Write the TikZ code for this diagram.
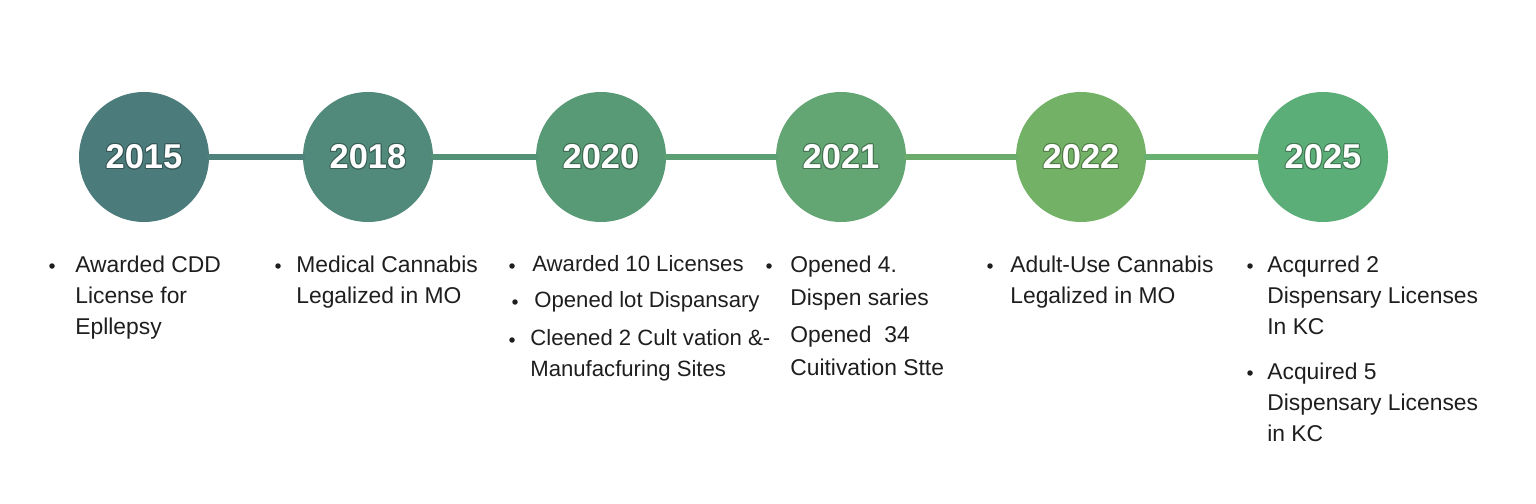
\documentclass[tikz,border=0pt]{standalone}
\usepackage{fontspec}
\setmainfont{Liberation Sans}
\usepackage{tikz}
\usetikzlibrary{calc}

% colori dei cerchi
\definecolor{c2015}{HTML}{4B7B7A}
\definecolor{c2018}{HTML}{51897A}
\definecolor{c2020}{HTML}{579A75}
\definecolor{c2021}{HTML}{63A573}
\definecolor{c2022}{HTML}{73B266}
\definecolor{c2025}{HTML}{5CAE78}
\definecolor{inchiostro}{HTML}{1E1E1E}

\begin{document}
\begin{tikzpicture}[line cap=round, line join=round,
  anno/.style={circle, minimum size=2.6cm, inner sep=0pt, text=white,
    font=\fontsize{19.6}{20}\selectfont\bfseries},
  nota/.style={anchor=north west, align=left, inner sep=0pt, text=inchiostro,
    font=\fontsize{13}{17.6}\selectfont},
  punto/.style={circle, fill=inchiostro, inner sep=0pt, minimum size=0.11cm},
  legame/.style={line width=0.12cm}]

\useasboundingbox (0,0) rectangle (30.72,-10.08);

% cerchi degli anni
\node[anno, fill=c2015] (y2015) at (2.88,-3.14) {2015};
\node[anno, fill=c2018] (y2018) at (7.36,-3.14) {2018};
\node[anno, fill=c2020] (y2020) at (12.02,-3.14) {2020};
\node[anno, fill=c2021] (y2021) at (16.82,-3.14) {2021};
\node[anno, fill=c2022] (y2022) at (21.62,-3.14) {2022};
\node[anno, fill=c2025] (y2025) at (26.46,-3.14) {2025};

% contorno scuro delle cifre
\foreach \anno in {2015,2018,2020,2021,2022,2025} {
  \foreach \a in {0,30,...,330}
    \node[anno, text=c\anno!70!black] at ($(y\anno)+(\a:0.02)$) {\anno};
  \node[anno] at (y\anno) {\anno};
}

% linea del tempo
\draw[legame, c2015!50!c2018] (y2015) -- (y2018);
\draw[legame, c2018!50!c2020] (y2018) -- (y2020);
\draw[legame, c2020!50!c2021] (y2020) -- (y2021);
\draw[legame, c2021!50!c2022] (y2021) -- (y2022);
\draw[legame, c2022!50!c2025] (y2022) -- (y2025);

% 2015
\node[nota] (n2015a) at (1.50,-5.11) {Awarded CDD\\License for\\Epllepsy};
\node[punto] at (1.04,-5.32) {};

% 2018
\node[nota] (n2018a) at (5.92,-5.11) {Medical Cannabis\\Legalized in MO};
\node[punto] at (5.56,-5.32) {};

% 2020
\node[nota, font=\fontsize{12.6}{17.6}\selectfont] (n2020a) at (10.64,-5.11) {Awarded 10 Licenses};
\node[punto] at (10.24,-5.32) {};
\node[nota, font=\fontsize{12.6}{17.6}\selectfont] (n2020b) at (10.68,-5.83) {Opened lot Dispansary};
\node[punto] at (10.30,-6.04) {};
\node[nota, font=\fontsize{12.6}{17.6}\selectfont] (n2020c) at (10.60,-6.59) {Cleened 2 Cult vation \&-\\Manufacfuring Sites};
\node[punto] at (10.24,-6.80) {};

% 2021
\node[nota, font=\fontsize{13}{18.8}\selectfont] (n2021a) at (15.80,-5.11) {Opened 4.\\Dispen saries};
\node[punto] at (15.38,-5.32) {};
\node[nota, font=\fontsize{13}{18.8}\selectfont] (n2021b) at (15.80,-6.51) {Opened\ \ 34\\Cuitivation Stte};

% 2022
\node[nota] (n2022a) at (20.20,-5.11) {Adult-Use Cannabis\\Legalized in MO};
\node[punto] at (19.80,-5.32) {};

% 2025
\node[nota] (n2025a) at (25.34,-5.11) {Acqurred 2\\Dispensary Licenses\\In KC};
\node[punto] at (25.00,-5.32) {};
\node[nota] (n2025b) at (25.34,-7.25) {Acquired 5\\Dispensary Licenses\\in KC};
\node[punto] at (25.00,-7.46) {};

\end{tikzpicture}
\end{document}
